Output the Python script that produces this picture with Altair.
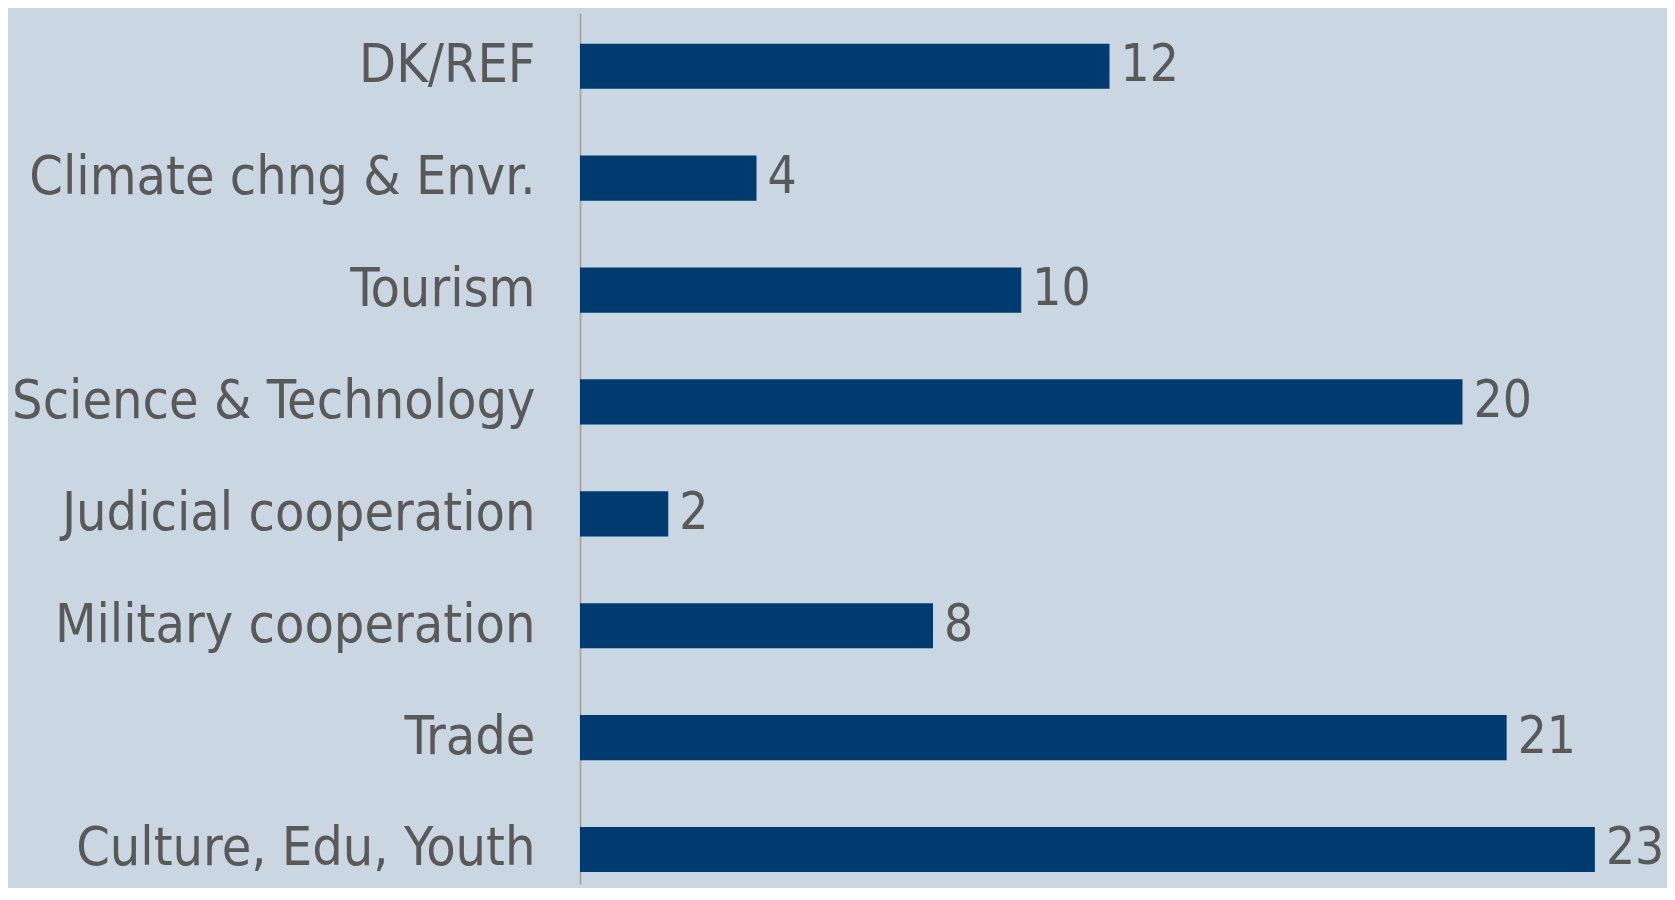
import altair as alt
import pandas as pd

categories = [
    "DK/REF",
    "Climate chng & Envr.",
    "Tourism",
    "Science & Technology",
    "Judicial cooperation",
    "Military cooperation",
    "Trade",
    "Culture, Edu, Youth",
]
values = [12, 4, 10, 20, 2, 8, 21, 23]

df = pd.DataFrame({"category": categories, "value": values})

FONT = "DejaVu Sans Condensed, DejaVu Sans"
BG = "#CAD6E2"
BAR = "#003B6F"
TXT = "#595959"

y = alt.Y(
    "category:N",
    sort=categories,
    title=None,
    scale=alt.Scale(paddingInner=0.5964, paddingOuter=0.1906, align=0.72),
    axis=alt.Axis(
        ticks=False,
        tickSize=0,
        labelPadding=45,
        labelFontSize=53.5,
        labelFont=FONT,
        labelColor=TXT,
        labelLimit=1000,
        domainColor="#A0A0A0",
        domainWidth=1.5,
        grid=False,
    ),
)
x = alt.X("value:Q", title=None, scale=alt.Scale(domain=[0, 24], nice=False), axis=None)

bars = alt.Chart(df).mark_bar(color=BAR).encode(x=x, y=y)
labels = alt.Chart(df).mark_text(
    align="left", baseline="middle", dx=11, font=FONT, fontSize=51, color=TXT
).encode(x=x, y=y, text="value:Q")

chart = (
    (bars + labels)
    .properties(
        width=1059,
        height=871,
        background=BG,
        padding={"left": 572, "top": 5, "right": 28, "bottom": 4},
        autosize=alt.AutoSizeParams(type="none"),
    )
    .configure_view(stroke=None)
)

chart.save("out.html", embed_options={"renderer": "svg", "actions": False})
